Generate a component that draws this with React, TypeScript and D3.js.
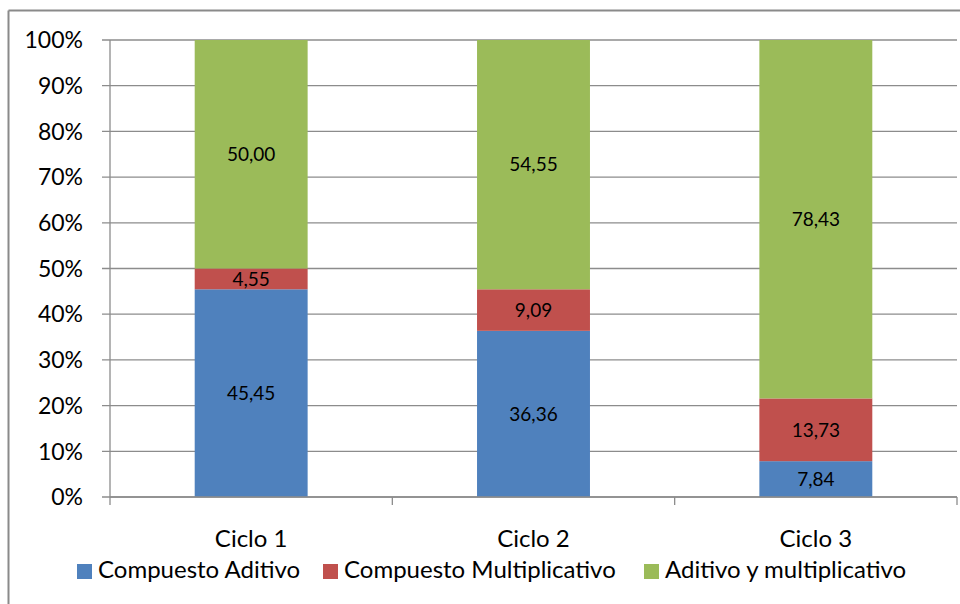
import React from "react";
import * as d3 from "d3";

const categories = ["Ciclo 1", "Ciclo 2", "Ciclo 3"];
const seriesNames = ["Compuesto Aditivo", "Compuesto Multiplicativo", "Aditivo y multiplicativo"];
const aditivo = [45.45, 36.36, 7.84];
const multiplicativo = [4.55, 9.09, 13.73];
const ambos = [50.0, 54.55, 78.43];
const yTicks = [0, 10, 20, 30, 40, 50, 60, 70, 80, 90, 100];
const colors = ["#4F81BD", "#C0504D", "#9BBB59"];

const W = 960, H = 604;
const left = 110, right = 957, top = 40, bottom = 497;
const FONT = "Lato, 'Open Sans', sans-serif";

export default function App() {
  const series = [aditivo, multiplicativo, ambos];
  const x = d3.scaleBand<string>().domain(categories).range([left, right]).paddingInner(0.6).paddingOuter(0.3);
  const y = d3.scaleLinear().domain([0, 100]).range([bottom, top]);
  const rows = categories.map((c, i) => {
    const o: any = { cat: c };
    seriesNames.forEach((s, k) => (o[s] = series[k][i]));
    return o;
  });
  const stacked = d3.stack<any>().keys(seriesNames)(rows);
  const step = (right - left) / categories.length;
  const catTicks = d3.range(categories.length + 1).map((i) => left + i * step);
  const fmt = (v: number) => v.toFixed(2).replace(".", ",");

  const legendX = [77, 323, 644];

  return (
    <svg width={W} height={H} style={{ position: "absolute", left: 0, top: 0, background: "#fff" }} fontFamily={FONT}>
      <rect x={0} y={0} width={W} height={H} fill="#fff" />
      {/* outer border */}
      <line x1={8.5} y1={10.5} x2={8.5} y2={H} stroke="#8a8a8a" strokeWidth={2} />
      <line x1={8.5} y1={10.5} x2={W} y2={10.5} stroke="#8a8a8a" strokeWidth={2} />
      {/* gridlines */}
      {yTicks.map((t) => (
        <g key={t}>
          <line x1={left - 8} x2={right} y1={y(t)} y2={y(t)} stroke="#8c8c8c" strokeWidth={1.3} />
          <text x={83} y={y(t)} dy="0.36em" textAnchor="end" fontSize={23} fill="#000">
            {t + "%"}
          </text>
        </g>
      ))}
      {/* bars */}
      {stacked.map((layer, k) =>
        layer.map((d, i) => {
          const x0 = x(categories[i])!;
          const y0 = y(d[1]);
          const h = y(d[0]) - y(d[1]);
          return (
            <g key={k + "-" + i}>
              <rect x={x0} y={y0} width={x.bandwidth()} height={h} fill={colors[k]} />
              <text x={x0 + x.bandwidth() / 2} y={y0 + h / 2} dy="0.36em" textAnchor="middle" fontSize={19} fill="#000">
                {fmt(series[k][i])}
              </text>
            </g>
          );
        })
      )}
      {/* axes */}
      <line x1={left} x2={left} y1={top} y2={bottom} stroke="#8c8c8c" strokeWidth={1.3} />
      <line x1={left} x2={right} y1={bottom} y2={bottom} stroke="#8c8c8c" strokeWidth={1.3} />
      {catTicks.map((t, i) => (
        <line key={i} x1={t} x2={t} y1={bottom} y2={bottom + 8} stroke="#8c8c8c" strokeWidth={1.3} />
      ))}
      {categories.map((c) => (
        <text key={c} x={x(c)! + x.bandwidth() / 2} y={547} textAnchor="middle" fontSize={24} fill="#000">
          {c}
        </text>
      ))}
      {/* legend */}
      {seriesNames.map((s, k) => (
        <g key={s}>
          <rect x={legendX[k]} y={564} width={15} height={15} fill={colors[k]} />
          <text x={legendX[k] + 21} y={578} fontSize={24} fill="#000">
            {s}
          </text>
        </g>
      ))}
    </svg>
  );
}
